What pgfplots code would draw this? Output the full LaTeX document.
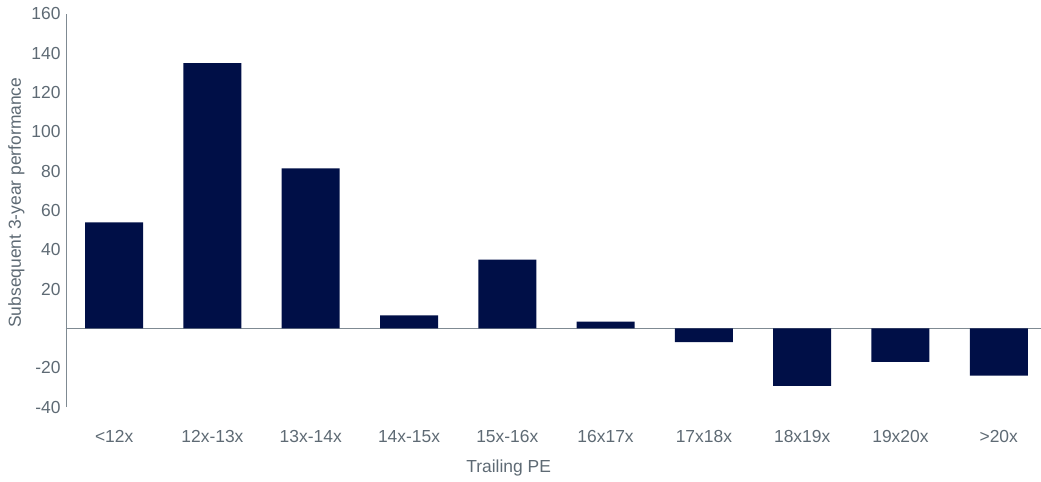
\documentclass[border=0pt]{standalone}
\usepackage{pgfplots}
\pgfplotsset{compat=1.18}
\usepackage{fontspec}
\setmainfont{Liberation Sans}
\definecolor{barnavy}{HTML}{000F47}
\definecolor{axisgray}{HTML}{7F8A92}
\definecolor{textgray}{HTML}{5E6A74}
\begin{document}
\begin{tikzpicture}
\begin{axis}[
  name=ax,
  scale only axis,
  width=975bp,height=393bp,
  xmin=-0.49,xmax=9.43,
  ymin=-40,ymax=160,
  axis lines=left,
  y axis line style={draw=axisgray,line width=0.8pt,-},
  x axis line style={draw=none},
  ytick={-40,-20,20,40,60,80,100,120,140,160},
  xtick={0,...,9},
  xticklabels={{<12x},{12x-13x},{13x-14x},{14x-15x},{15x-16x},{16x17x},{17x18x},{18x19x},{19x20x},{>20x}},
  major tick length=0pt,
  /pgf/number format/assume math mode=true,
  ticklabel style={font=\fontsize{17.5}{20}\selectfont,text=textgray},
  yticklabel style={xshift=-2bp},
  xticklabel style={yshift=-20bp},
  ylabel={Subsequent 3-year performance},
  ylabel style={font=\fontsize{17.5}{20}\selectfont,text=textgray,at={(ticklabel cs:0.52)},yshift=0bp},
  xlabel={Trailing PE},
  xlabel style={font=\fontsize{17.5}{20}\selectfont,text=textgray,at={(ticklabel cs:0.454)},anchor=north,yshift=-10bp},
  clip=false,
]
\draw[axisgray,line width=0.8pt] (axis cs:-0.49,0) -- (axis cs:9.43,0);
\addplot[ybar,bar width=58bp,fill=barnavy,draw=none] coordinates {
  (0,54) (1,135) (2,81.4) (3,6.6) (4,35) (5,3.5) (6,-7) (7,-29.3) (8,-17) (9,-24)
};
\end{axis}
\pgfresetboundingbox
\path[use as bounding box] ([xshift=-66bp,yshift=-74bp]ax.south west) rectangle ([yshift=14bp]ax.north east);
\end{tikzpicture}
\end{document}
